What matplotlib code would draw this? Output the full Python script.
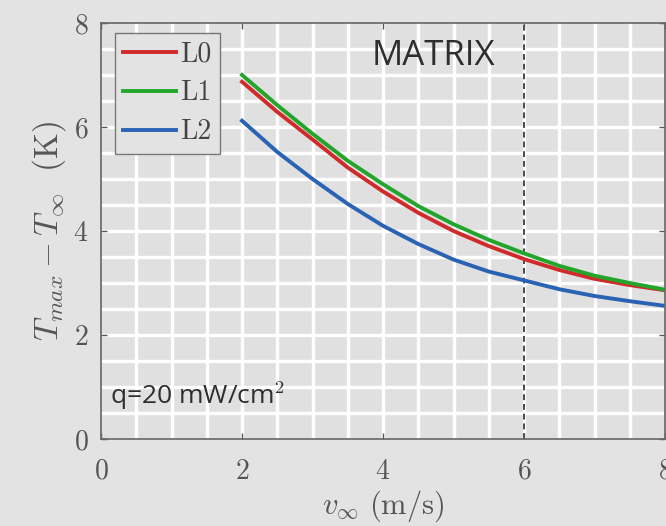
import matplotlib
matplotlib.use("Agg")
import matplotlib.pyplot as plt
import numpy as np

# Free-stream velocity (m/s) and peak temperature rise (K) for three layers
v_inf = [2.0, 2.5, 3.0, 3.5, 4.0, 4.5, 5.0, 5.5, 6.0, 6.5, 7.0, 7.5, 8.0]
dT_L0 = [6.87, 6.29, 5.76, 5.22, 4.76, 4.35, 4.00, 3.71, 3.46, 3.25, 3.08, 2.96, 2.86]
dT_L1 = [7.00, 6.42, 5.87, 5.35, 4.90, 4.48, 4.13, 3.83, 3.57, 3.33, 3.14, 3.00, 2.87]
dT_L2 = [6.12, 5.52, 5.00, 4.52, 4.10, 3.75, 3.45, 3.22, 3.05, 2.88, 2.75, 2.65, 2.56]

series_labels = ["L0", "L1", "L2"]
series_colors = ["#d02a2a", "#22a52a", "#2a62b4"]

x_ticks = [0, 2, 4, 6, 8]
y_ticks = [0, 2, 4, 6, 8]
v_marker = 6

plt.rcParams["mathtext.fontset"] = "cm"
plt.rcParams["font.family"] = ["serif"]
plt.rcParams["font.serif"] = ["cmr10", "DejaVu Serif"]
plt.rcParams["axes.formatter.use_mathtext"] = True

fig = plt.figure(figsize=(6.66, 5.26), dpi=100, facecolor="#e3e3e3")
ax = fig.add_axes([0.1517, 0.1654, 0.8468, 0.7909])
ax.set_facecolor("#e0e0e0")

# white grid every half unit
for g in np.arange(0.5, 8.0, 0.5):
    ax.axvline(g, color="white", lw=2.4, zorder=0.5)
    ax.axhline(g, color="white", lw=2.4, zorder=0.5)

ax.axvline(v_marker, color="#4a4a4a", lw=1.4, ls=(0, (3, 2)), zorder=1)

for vals, lab, col in zip([dT_L0, dT_L1, dT_L2], series_labels, series_colors):
    ax.plot(v_inf, vals, color=col, lw=2.8, label=lab, zorder=2)

ax.set_xlim(0, 8)
ax.set_ylim(0, 8)
ax.set_xticks(x_ticks)
ax.set_yticks(y_ticks)
ax.set_xticklabels([f"${t}$" for t in x_ticks])
ax.set_yticklabels([f"${t}$" for t in y_ticks])
ax.tick_params(direction="in", length=4, width=1, colors="#555555",
               labelcolor="#555555", labelsize=20, top=True, right=True)
ax.tick_params(axis="x", pad=14)
ax.tick_params(axis="y", pad=9)

for s in ax.spines.values():
    s.set_color("#666666")
    s.set_linewidth(1.2)

ax.set_xlabel(r"$v_{\infty}\ \mathrm{(m/s)}$", fontsize=22, color="#555555", labelpad=3)
ax.set_ylabel(r"$T_{max} - T_{\infty}\ \ \mathrm{(K)}$", fontsize=24, color="#555555", labelpad=4)

leg = ax.legend(loc="upper left", bbox_to_anchor=(0.025, 0.976), fontsize=20,
                frameon=True, fancybox=False, handlelength=1.9, handletextpad=0.15,
                borderpad=0.3, labelspacing=0.45, borderaxespad=0)
leg.get_frame().set_facecolor("#e3e3e3")
leg.get_frame().set_edgecolor("#777777")
leg.get_frame().set_alpha(1)
for t in leg.get_texts():
    t.set_color("#444444")

ax.text(0.589, 0.92, "MATRIX", transform=ax.transAxes, ha="center", va="center",
        fontsize=25, fontweight="medium", color="#2e2e2e",
        family=["Open Sans", "DejaVu Sans"])
ax.text(0.016, 0.103, "q=20 mW/cm$^2$", transform=ax.transAxes, ha="left", va="center",
        fontsize=19, color="#2e2e2e", family=["Open Sans", "DejaVu Sans"])

fig.savefig("out.png", dpi=100, facecolor=fig.get_facecolor())
